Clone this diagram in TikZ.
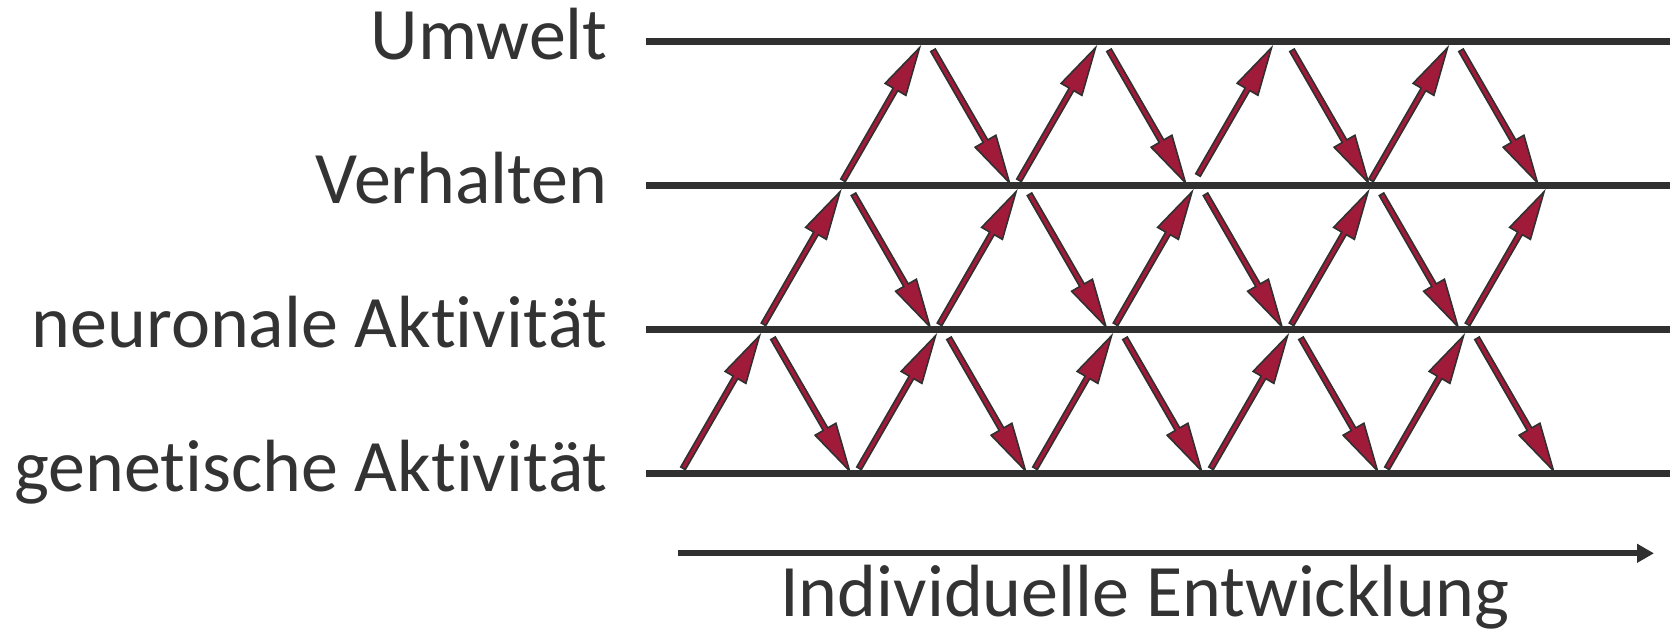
\documentclass[tikz,border=0pt]{standalone}
\usepackage{fontspec}
\setmainfont{Carlito}[RawFeature={-liga;-clig;-dlig;-calt}]
\usetikzlibrary{arrows.meta}
\definecolor{linegray}{RGB}{48,48,48}
\definecolor{textgray}{RGB}{51,51,51}
\definecolor{arrred}{RGB}{160,27,58}
\newcommand\nolig{\kern0pt }
\tikzset{
  level/.style={draw=linegray, line width=3.75pt},
  timeline/.style={draw=linegray, line width=2.9pt, -{Triangle[length=8.5pt,width=9pt]}},
  lab/.style={text=textgray, font=\fontsize{37}{44}\selectfont, inner sep=0pt},
  arrowfill/.style={fill=arrred, draw=linegray, line width=0.8pt},
  pics/redarrow/.style={code={
    \filldraw[arrowfill] (0,-2.6) -- (#1-48,-2.6) -- (#1-48,-12) -- (#1,0)
      -- (#1-48,12) -- (#1-48,2.6) -- (0,2.6) -- cycle;
  }}
}
\begin{document}
\begin{tikzpicture}[x=0.5pt,y=-0.5pt]
\useasboundingbox (0,0) rectangle (1673,630);
% levels
\coordinate (u0) at (646,41.3);  \coordinate (u1) at (1670,41.3);
\coordinate (v0) at (646,185.3); \coordinate (v1) at (1670,185.3);
\coordinate (n0) at (646,329.3); \coordinate (n1) at (1670,329.3);
\coordinate (g0) at (646,473.3); \coordinate (g1) at (1670,473.3);
\draw[level] (u0) -- (u1);
\draw[level] (v0) -- (v1);
\draw[level] (n0) -- (n1);
\draw[level] (g0) -- (g1);
% labels
\node[lab, anchor=base east] (lu) at (608,59.5) {Umwelt};
\node[lab, anchor=base east] (lv) at (608,203.5) {Verhalten};
\node[lab, anchor=base east] (ln) at (608,347.5) {neuronale Akt\nolig ivit\nolig ät};
\node[lab, anchor=base east] (lg) at (608,491.5) {genet\nolig ische Akt\nolig ivit\nolig ät};
% band 1: genetisch <-> neuronal
\foreach \i in {0,...,4}{
  \pic[rotate=60] at ({683+176*\i},468.3) {redarrow=153};
  \pic[rotate=-60] at ({683+176*\i+90},338.3) {redarrow=153};
}
% band 2: neuronal <-> Verhalten
\foreach \i in {0,...,4}{
  \pic[rotate=60] at ({763.5+176*\i},324.3) {redarrow=153};
}
\foreach \i in {0,...,3}{
  \pic[rotate=-60] at ({763.5+176*\i+90},194.3) {redarrow=153};
}
% band 3: Verhalten <-> Umwelt
\pic[rotate=60] at (843,180.3) {redarrow=153};
\pic[rotate=-60] at (933,50.3) {redarrow=153};
\pic[rotate=60] at (1019,180.3) {redarrow=153};
\pic[rotate=-60] at (1109,50.3) {redarrow=153};
\pic[rotate=60] at (1198,175) {redarrow=147};
\pic[rotate=-60] at (1292,50.3) {redarrow=153};
\pic[rotate=60] at (1371,180.3) {redarrow=153};
\pic[rotate=-60] at (1461,50.3) {redarrow=153};
% time axis
\coordinate (t0) at (678,553.3);
\coordinate (t1) at (1654,553.3);
\draw[timeline] (t0) -- (t1);
\node[lab, anchor=base] (lt) at (1145,616) {Individuelle Entwicklung};
\end{tikzpicture}
\end{document}
